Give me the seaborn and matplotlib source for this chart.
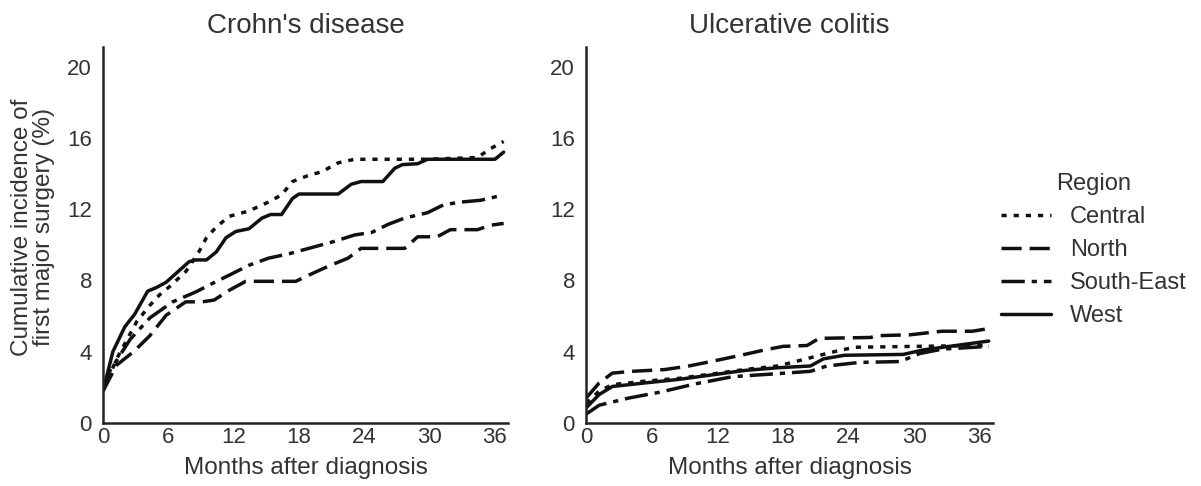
import matplotlib
matplotlib.use("Agg")
import matplotlib.pyplot as plt
import pandas as pd
import seaborn as sns

# Cumulative incidence of first major surgery (%) by region, months after diagnosis
regions = ["Central", "North", "South-East", "West"]

cd_central_months = [0, 1.25, 3.1, 4.3, 5.2, 6.1, 7.6, 8.8, 9.5, 10.4, 11.6, 13.4, 15.2, 16.4,
                     17.4, 18.9, 20.1, 21.6, 23.1, 29.8, 34.4, 35.6, 36.8]
cd_central_values = [1.8, 3.6, 5.7, 6.6, 7.2, 7.65, 8.5, 9.6, 10.4, 11.0, 11.6, 11.9, 12.4, 12.8,
                     13.55, 13.9, 14.1, 14.6, 14.8, 14.8, 14.9, 15.4, 15.8]

cd_north_months = [0, 1.25, 2.8, 4.3, 5.8, 7.6, 9.1, 10.2, 11.6, 13.1, 17.7, 18.9, 20.7, 22.5,
                   23.7, 27.7, 28.9, 30.7, 31.9, 34.4, 35.6, 36.8]
cd_north_values = [1.8, 3.25, 4.0, 4.9, 6.05, 6.8, 6.8, 6.9, 7.45, 7.95, 7.95, 8.3, 8.8, 9.25,
                   9.8, 9.8, 10.45, 10.45, 10.85, 10.85, 11.1, 11.2]

cd_southeast_months = [0, 0.6, 2.5, 4.3, 6.4, 8.5, 10.1, 11.6, 13.4, 15.2, 17.1, 18.9, 21.3, 23.1,
                       24.7, 26.2, 27.7, 29.8, 31.3, 32.9, 34.7, 36.8]
cd_southeast_values = [1.8, 2.9, 4.7, 5.9, 6.8, 7.35, 7.85, 8.3, 8.85, 9.25, 9.5, 9.8, 10.2, 10.55,
                       10.7, 11.15, 11.5, 11.8, 12.25, 12.4, 12.5, 12.8]

cd_west_months = [0, 0.9, 2.0, 2.9, 4.1, 4.9, 5.8, 7.9, 8.5, 9.5, 10.4, 11.3, 12.2, 13.4, 14.6,
                  15.4, 16.4, 17.4, 18.0, 21.6, 22.8, 23.7, 25.7, 26.8, 27.5, 28.9, 29.8, 36.0, 36.8]
cd_west_values = [1.8, 4.0, 5.4, 6.1, 7.4, 7.6, 7.9, 9.05, 9.15, 9.15, 9.6, 10.4, 10.75, 10.9, 11.5,
                  11.7, 11.7, 12.6, 12.85, 12.85, 13.4, 13.55, 13.55, 14.3, 14.5, 14.55, 14.8, 14.8, 15.2]

uc_central_months = [0, 1.2, 2.4, 5.4, 8.4, 11.5, 14.5, 17.5, 19.8, 22.3, 24.5, 30.0, 36.8]
uc_central_values = [1.1, 1.8, 2.15, 2.35, 2.5, 2.75, 3.0, 3.2, 3.55, 3.95, 4.25, 4.3, 4.35]

uc_north_months = [0, 1.2, 2.4, 4.2, 7.2, 9.4, 12.2, 14.5, 16.3, 18.0, 20.2, 21.3, 26.0, 26.6,
                   29.6, 32.5, 35.3, 36.8]
uc_north_values = [1.4, 2.25, 2.8, 2.9, 3.0, 3.2, 3.55, 3.85, 4.1, 4.3, 4.35, 4.75, 4.8, 4.9,
                   4.95, 5.15, 5.15, 5.3]

uc_southeast_months = [0, 1.2, 3.9, 6.9, 10.0, 13.4, 17.0, 20.5, 22.0, 25.0, 28.7, 30.5, 32.6, 36.8]
uc_southeast_values = [0.5, 1.0, 1.4, 1.75, 2.2, 2.6, 2.75, 2.9, 3.2, 3.4, 3.45, 3.9, 4.15, 4.3]

uc_west_months = [0, 1.2, 2.4, 5.4, 8.5, 11.5, 14.5, 17.5, 20.5, 21.7, 23.6, 29.0, 30.8, 32.6,
                  35.0, 36.8]
uc_west_values = [0.85, 1.6, 2.05, 2.25, 2.45, 2.7, 2.95, 3.1, 3.2, 3.6, 3.8, 3.85, 4.1, 4.25,
                  4.45, 4.6]

panel_titles = ["Crohn's disease", "Ulcerative colitis"]
x_ticks = [0, 6, 12, 18, 24, 30, 36]
y_ticks = [0, 4, 8, 12, 16, 20]


def long_frame(series):
    rows = []
    for region, months, values in series:
        for m, v in zip(months, values):
            rows.append({"Month": m, "Incidence": v, "Region": region})
    return pd.DataFrame(rows)


cd = long_frame([
    ("Central", cd_central_months, cd_central_values),
    ("North", cd_north_months, cd_north_values),
    ("South-East", cd_southeast_months, cd_southeast_values),
    ("West", cd_west_months, cd_west_values),
])
uc = long_frame([
    ("Central", uc_central_months, uc_central_values),
    ("North", uc_north_months, uc_north_values),
    ("South-East", uc_southeast_months, uc_southeast_values),
    ("West", uc_west_months, uc_west_values),
])

sns.set_style("white")
plt.rcParams["font.family"] = ["Liberation Sans", "DejaVu Sans"]
text_color = "#333333"
plt.rcParams["text.color"] = text_color
plt.rcParams["axes.labelcolor"] = text_color
plt.rcParams["xtick.color"] = text_color
plt.rcParams["ytick.color"] = text_color

dash_styles = {
    "Central": (1.5, 2.0),
    "North": (5.8, 2.3),
    "South-East": (6.7, 2.0, 1.5, 2.0),
    "West": "",
}

fig = plt.figure(figsize=(12.01, 4.86), dpi=100)
ax_cd = fig.add_axes([0.0858, 0.1296, 0.3372, 0.7737])
ax_uc = fig.add_axes([0.4880, 0.1296, 0.3389, 0.7737])

for ax, data, title in [(ax_cd, cd, panel_titles[0]), (ax_uc, uc, panel_titles[1])]:
    sns.lineplot(data=data, x="Month", y="Incidence", style="Region", style_order=regions,
                 dashes=dash_styles, color="#111111", linewidth=2.5, estimator=None,
                 ax=ax)
    ax.set_xlim(0, 37.2)
    ax.set_ylim(0, 21.1)
    ax.set_xticks(x_ticks)
    ax.set_yticks(y_ticks)
    ax.tick_params(axis="both", length=0, labelsize=16)
    ax.tick_params(axis="y", pad=8)
    ax.tick_params(axis="x", pad=3)
    ax.set_title(title, fontsize=20, pad=10, color=text_color)
    ax.set_xlabel("Months after diagnosis", fontsize=17.5, labelpad=6)
    ax.set_ylabel("")
    for side in ["top", "right"]:
        ax.spines[side].set_visible(False)
    for side in ["left", "bottom"]:
        ax.spines[side].set_color("#222222")
        ax.spines[side].set_linewidth(1.8)

ax_cd.set_ylabel("Cumulative incidence of\nfirst major surgery (%)", fontsize=17.5,
                 linespacing=1.0)
ax_cd.yaxis.set_label_coords(-0.118, 0.52)

handles, labels = ax_cd.get_legend_handles_labels()
ax_cd.get_legend().remove()
ax_uc.get_legend().remove()
leg = fig.legend(handles, labels, title="Region", loc="center left",
                 bbox_to_anchor=(0.824, 0.485), frameon=False, fontsize=17,
                 title_fontsize=17, handlelength=2.1, handletextpad=0.8,
                 labelspacing=0.47, borderpad=0)
for line in leg.get_lines():
    line.set_linewidth(2.5)

fig.savefig("out.png", dpi=100)
